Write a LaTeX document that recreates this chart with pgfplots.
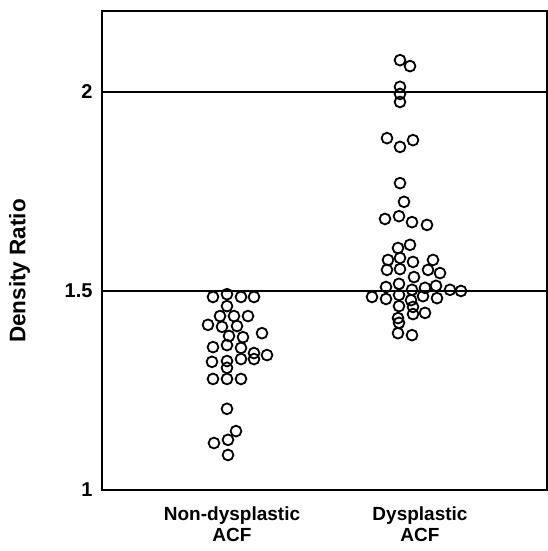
\documentclass[border=0pt]{standalone}
\usepackage{fontspec}
\setmainfont{Liberation Sans}
\usepackage{pgfplots}
\pgfplotsset{compat=1.18}

\begin{document}
\begin{tikzpicture}
\begin{axis}[
    scale only axis,
    width=445pt, height=479pt,
    xmin=102, xmax=547,
    ymin=1, ymax=2.2035,
    axis line style={line width=1.3pt},
    xtick={232,420},
    xticklabels={Non-dysplastic\\ACF, Dysplastic\\ACF},
    xticklabel style={align=center, font=\bfseries\fontsize{19}{21}\selectfont, yshift=-13pt},
    xtick style={draw=none},
    ytick={1,1.5,2},
    yticklabels={1,1.5,2},
    yticklabel style={font=\bfseries\fontsize{20}{20}\selectfont, xshift=-6pt},
    ytick style={draw=none},
    ymajorgrids,
    grid style={black, line width=1.1pt},
    ylabel={\bfseries Density Ratio},
    ylabel style={font=\fontsize{22.5}{22.5}\selectfont, at={(axis description cs:-0.185,0.457)}, anchor=center},
    /pgf/number format/assume math mode=true,
]
% Non-dysplastic ACF
\addplot[only marks, mark=o, mark size=5.4pt, mark options={line width=1.8pt, black}] coordinates {
    (213,1.485) (227,1.492) (241,1.485) (254,1.485)
    (227,1.462)
    (220,1.437) (234,1.437) (248,1.437)
    (208,1.415) (222,1.410) (237,1.412)
    (229,1.387) (243,1.384) (262,1.394)
    (213,1.359) (227,1.364) (241,1.357) (254,1.344) (267,1.339)
    (212,1.322) (227,1.324) (241,1.329) (254,1.329)
    (227,1.307)
    (213,1.279) (227,1.279) (241,1.279)
    (227,1.204)
    (214,1.118) (228,1.126) (236,1.148) (228,1.088)
};
% Dysplastic ACF
\addplot[only marks, mark=o, mark size=5.4pt, mark options={line width=1.8pt, black}] coordinates {
    (400,2.080) (410,2.065) (400,2.013) (400,1.995) (400,1.975)
    (387,1.884) (400,1.862) (413,1.879)
    (400,1.771) (404,1.724)
    (385,1.681) (399,1.688) (412,1.673) (427,1.666)
    (398,1.608) (410,1.616)
    (388,1.578) (400,1.583) (413,1.573) (433,1.578)
    (387,1.553) (400,1.555) (428,1.553)
    (414,1.535) (440,1.545)
    (386,1.510) (399,1.518) (412,1.503) (425,1.508) (436,1.513) (450,1.503) (461,1.500)
    (372,1.485) (386,1.480) (399,1.490) (411,1.477) (423,1.487) (437,1.482)
    (399,1.462) (413,1.460)
    (425,1.445) (398,1.432) (413,1.442)
    (399,1.420) (398,1.394) (412,1.389)
};
\end{axis}
\path ([shift={(-102pt,-61pt)}]current axis.south west) rectangle ([shift={(0pt,11pt)}]current axis.north east);
\end{tikzpicture}
\end{document}
